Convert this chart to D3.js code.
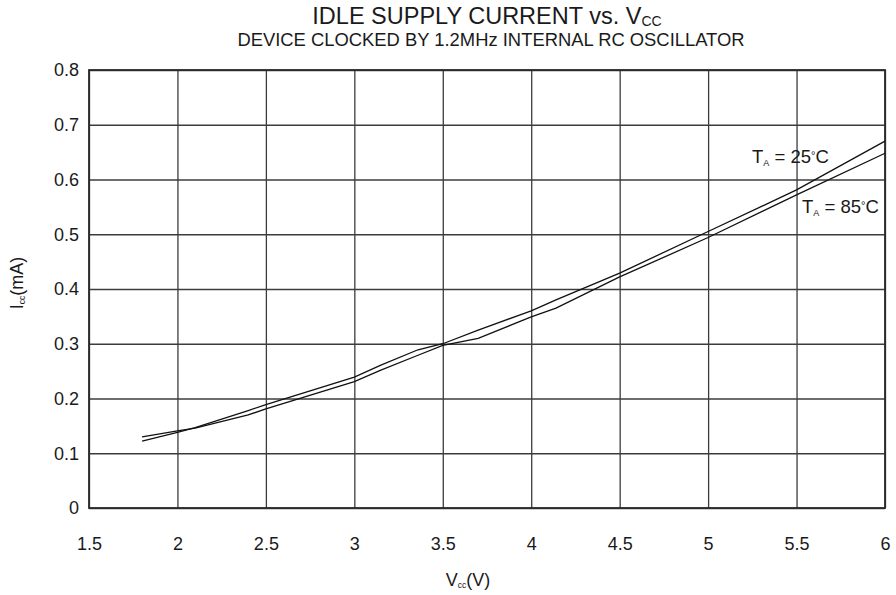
<!DOCTYPE html>
<html>
<head>
<meta charset="utf-8">
<script src="https://cdn.jsdelivr.net/npm/d3@7/dist/d3.min.js"></script>
<style>
  html, body { margin: 0; padding: 0; background: #fff; }
  svg { display: block; }
  text { font-family: "Liberation Sans", Arial, Helvetica, sans-serif; fill: #1a1a1a; }
</style>
</head>
<body>
<svg id="chart" width="896" height="595"></svg>
<script>
// Supply voltage (V) sample points
const vcc = [1.8, 2.0, 2.1, 2.4, 2.5, 3.0, 3.15, 3.36, 3.5, 3.7, 4.0, 4.14, 4.5, 5.0, 5.5, 6.0];
// Idle supply current (mA) at TA = 25 °C
const icc25 = [0.122, 0.138, 0.147, 0.178, 0.189, 0.239, 0.261, 0.289, 0.300, 0.325, 0.360, 0.380, 0.429, 0.505, 0.581, 0.670];
// Idle supply current (mA) at TA = 85 °C
const icc85 = [0.130, 0.141, 0.146, 0.170, 0.181, 0.231, 0.252, 0.279, 0.297, 0.310, 0.349, 0.365, 0.422, 0.494, 0.572, 0.648];

const xTicks = [1.5, 2, 2.5, 3, 3.5, 4, 4.5, 5, 5.5, 6];
const yTicks = [0, 0.1, 0.2, 0.3, 0.4, 0.5, 0.6, 0.7, 0.8];

const svg = d3.select("#chart");
const plotL = 89, plotR = 885, plotT = 70, plotB = 508;

const x = d3.scaleLinear().domain([1.5, 6]).range([plotL, plotR]);
const y = d3.scaleLinear().domain([0, 0.8]).range([plotB, plotT]);

const gridColor = "#3c3c3c";
const tickFont = 18;

// x axis with full-height grid lines
const gx = svg.append("g")
  .attr("transform", `translate(0,${plotB})`)
  .call(d3.axisBottom(x).tickValues(xTicks).tickFormat(d3.format("")).tickSize(-(plotB - plotT)).tickPadding(29));
gx.select(".domain").remove();
gx.selectAll(".tick line").attr("stroke", gridColor).attr("stroke-width", 1.3);
gx.selectAll(".tick text").attr("font-size", tickFont).attr("fill", "#1a1a1a")
  .attr("font-family", "Liberation Sans, Arial, sans-serif");

// y axis with full-width grid lines
const gy = svg.append("g")
  .attr("transform", `translate(${plotL},0)`)
  .call(d3.axisLeft(y).tickValues(yTicks).tickFormat(d3.format("")).tickSize(-(plotR - plotL)).tickPadding(10));
gy.select(".domain").remove();
gy.selectAll(".tick line").attr("stroke", gridColor).attr("stroke-width", 1.3);
gy.selectAll(".tick text").attr("font-size", tickFont).attr("fill", "#1a1a1a")
  .attr("font-family", "Liberation Sans, Arial, sans-serif");

// plot frame
svg.append("rect")
  .attr("x", plotL).attr("y", plotT)
  .attr("width", plotR - plotL).attr("height", plotB - plotT)
  .attr("fill", "none").attr("stroke", "#2a2a2a").attr("stroke-width", 1.8);

// current curves
const line = d3.line().x((d, i) => x(vcc[i])).y(d => y(d));
[icc25, icc85].forEach(s => {
  svg.append("path")
    .attr("d", line(s))
    .attr("fill", "none")
    .attr("stroke", "#111")
    .attr("stroke-width", 1.3);
});

// titles
const title = svg.append("text")
  .attr("x", 487).attr("y", 24)
  .attr("text-anchor", "middle")
  .attr("font-size", 23.5);
title.append("tspan").text("IDLE SUPPLY CURRENT vs. V");
title.append("tspan").attr("font-size", 14).attr("dy", 1.5).text("CC");

svg.append("text")
  .attr("x", 491).attr("y", 46)
  .attr("text-anchor", "middle")
  .attr("font-size", 18.4)
  .text("DEVICE CLOCKED BY 1.2MHz INTERNAL RC OSCILLATOR");

// axis titles
const xt = svg.append("text")
  .attr("x", 468).attr("y", 586)
  .attr("text-anchor", "middle")
  .attr("font-size", 18);
xt.append("tspan").text("V");
xt.append("tspan").attr("font-size", 8.5).attr("dy", 2).text("cc");
xt.append("tspan").attr("dy", -2).text("(V)");

const yt = svg.append("text")
  .attr("transform", "translate(23,283) rotate(-90)")
  .attr("text-anchor", "middle")
  .attr("font-size", 18);
yt.append("tspan").text("I");
yt.append("tspan").attr("font-size", 8.5).attr("dy", 2).text("cc");
yt.append("tspan").attr("dy", -2).text("(mA)");

// curve labels
function tempLabel(xPos, yPos, temp) {
  const t = svg.append("text").attr("x", xPos).attr("y", yPos).attr("font-size", 18.5);
  t.append("tspan").text("T");
  t.append("tspan").attr("font-size", 9).attr("dy", 3).text("A");
  t.append("tspan").attr("dy", -3).text(" = " + temp);
  t.append("tspan").attr("font-size", 11).attr("dy", -4).text("°");
  t.append("tspan").attr("dy", 4).text("C");
}
tempLabel(752, 163, "25");
tempLabel(802, 213, "85");
</script>
</body>
</html>
